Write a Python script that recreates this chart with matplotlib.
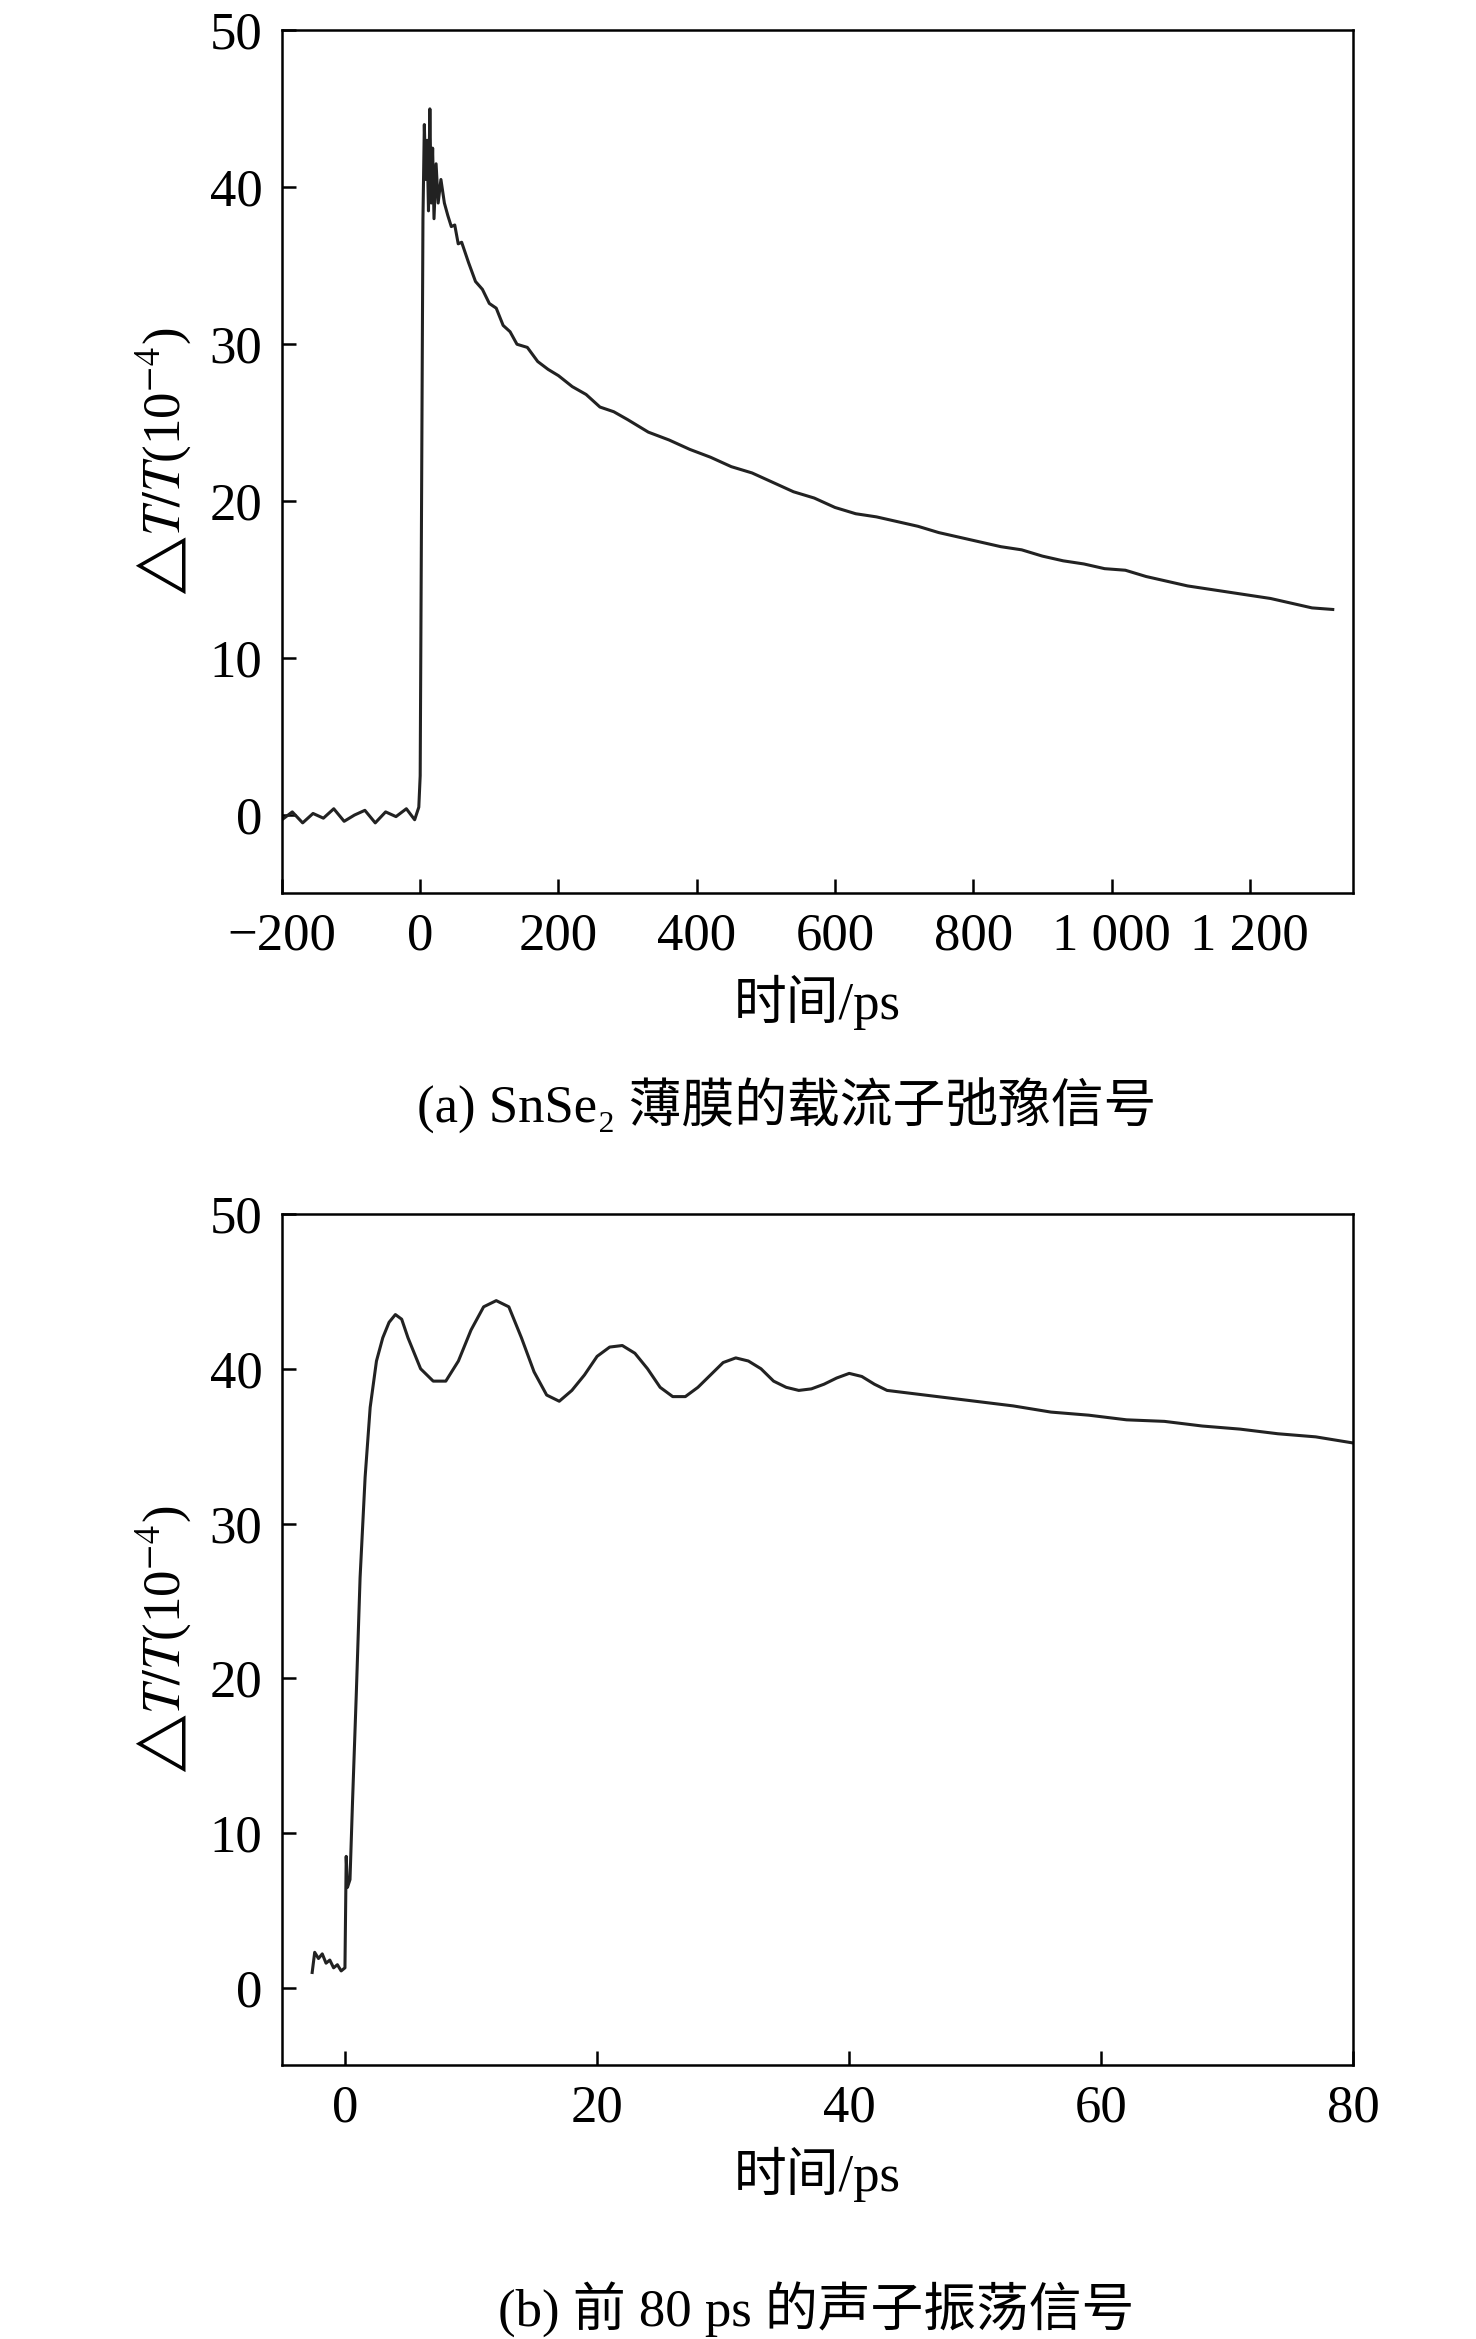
import matplotlib
matplotlib.use('Agg')
import matplotlib.pyplot as plt

plt.rcParams['font.family'] = ['Liberation Serif', 'Noto Sans CJK SC']
plt.rcParams['mathtext.fontset'] = 'stix'

# (a) carrier relaxation
t_a = [-200, -185, -170, -155, -140, -125, -110, -95, -80, -65, -50, -35, -20, -8, -2, 0, 2, 4, 6, 8, 10, 12,
       14, 16, 18, 20, 23, 26, 30, 35, 40, 45, 50, 55, 60, 70, 80, 90, 100, 110, 120, 130, 140, 155, 170,
       185, 200, 220, 240, 260, 280, 300, 330, 360, 390, 420, 450, 480, 510, 540, 570, 600, 630, 660, 690,
       720, 750, 780, 810, 840, 870, 900, 930, 960, 990, 1020, 1050, 1080, 1110, 1140, 1170, 1200, 1230,
       1260, 1290, 1320]
y_a = [-0.3, 0.2, -0.5, 0.1, -0.2, 0.4, -0.4, 0.0, 0.3, -0.5, 0.2, -0.1, 0.4, -0.3, 0.5, 2.5, 20.0, 38.0,
       44.0, 40.5, 43.0, 38.5, 45.0, 39.0, 42.5, 38.0, 41.5, 39.0, 40.5, 39.0, 38.2, 37.5, 37.6, 36.4, 36.5,
       35.2, 34.0, 33.5, 32.6, 32.3, 31.2, 30.8, 30.0, 29.8, 28.9, 28.4, 28.0, 27.3, 26.8, 26.0, 25.7, 25.2,
       24.4, 23.9, 23.3, 22.8, 22.2, 21.8, 21.2, 20.6, 20.2, 19.6, 19.2, 19.0, 18.7, 18.4, 18.0, 17.7, 17.4,
       17.1, 16.9, 16.5, 16.2, 16.0, 15.7, 15.6, 15.2, 14.9, 14.6, 14.4, 14.2, 14.0, 13.8, 13.5, 13.2, 13.1]

# (b) first 80 ps, phonon oscillation
t_b = [-2.6, -2.4, -2.1, -1.8, -1.5, -1.2, -0.9, -0.6, -0.3, 0.0, 0.1, 0.2, 0.4, 0.6, 0.9, 1.2, 1.6, 2.0, 2.5, 3.0,
       3.5, 4.0, 4.5, 5.0, 6.0, 7.0, 8.0, 9.0, 10.0, 11.0, 12.0, 13.0, 14.0, 15.0, 16.0, 17.0, 18.0, 19.0,
       20.0, 21.0, 22.0, 23.0, 24.0, 25.0, 26.0, 27.0, 28.0, 29.0, 30.0, 31.0, 32.0, 33.0, 34.0, 35.0, 36.0,
       37.0, 38.0, 39.0, 40.0, 41.0, 42.0, 43.0, 45.0, 47.0, 50.0, 53.0, 56.0, 59.0, 62.0, 65.0, 68.0, 71.0,
       74.0, 77.0, 80.0]
y_b = [1.0, 2.3, 1.9, 2.2, 1.6, 1.8, 1.3, 1.5, 1.1, 1.3, 8.5, 6.5, 7.0, 12.0, 19.0, 26.5, 33.0, 37.5, 40.5, 42.0,
       43.0, 43.5, 43.2, 42.0, 40.0, 39.2, 39.2, 40.5, 42.5, 44.0, 44.4, 44.0, 42.0, 39.8, 38.3, 37.9, 38.6,
       39.6, 40.8, 41.4, 41.5, 41.0, 40.0, 38.8, 38.2, 38.2, 38.8, 39.6, 40.4, 40.7, 40.5, 40.0, 39.2, 38.8,
       38.6, 38.7, 39.0, 39.4, 39.7, 39.5, 39.0, 38.6, 38.4, 38.2, 37.9, 37.6, 37.2, 37.0, 36.7, 36.6, 36.3,
       36.1, 35.8, 35.6, 35.2]

W, H = 1476, 2339
fig = plt.figure(figsize=(W / 100, H / 100), dpi=100)
ylab = r'$\bigtriangleup\mathit{T}/\mathit{T}$(10$^{-4}$)'
fs = 38

def style(ax):
    ax.tick_params(direction='in', length=10, width=1.8, labelsize=fs, pad=14)
    for s in ax.spines.values():
        s.set_linewidth(1.8)
    ax.set_yticks([0, 10, 20, 30, 40, 50])
    ax.set_ylim(-5, 50)
    ax.set_ylabel(ylab, fontsize=fs, labelpad=12)
    ax.set_xlabel('时间/ps', fontsize=fs, labelpad=10)

ax1 = fig.add_axes([0.191, 0.618, 0.726, 0.369])
ax1.plot(t_a, y_a, color='#222222', lw=2.2)
ax1.set_xlim(-200, 1350)
ax1.set_xticks([-200, 0, 200, 400, 600, 800, 1000, 1200])
ax1.set_xticklabels(['−200', '0', '200', '400', '600', '800', '1 000', '1 200'])
style(ax1)
fig.text(0.533, 0.527, '(a) SnSe₂ 薄膜的载流子弛豫信号', ha='center', va='center', fontsize=fs)

ax2 = fig.add_axes([0.191, 0.117, 0.726, 0.364])
ax2.plot(t_b, y_b, color='#222222', lw=2.2)
ax2.set_xlim(-5, 80)
ax2.set_xticks([0, 20, 40, 60, 80])
style(ax2)
fig.text(0.553, 0.0126, '(b) 前 80 ps 的声子振荡信号', ha='center', va='center', fontsize=fs)

fig.savefig('out.png', dpi=100)
